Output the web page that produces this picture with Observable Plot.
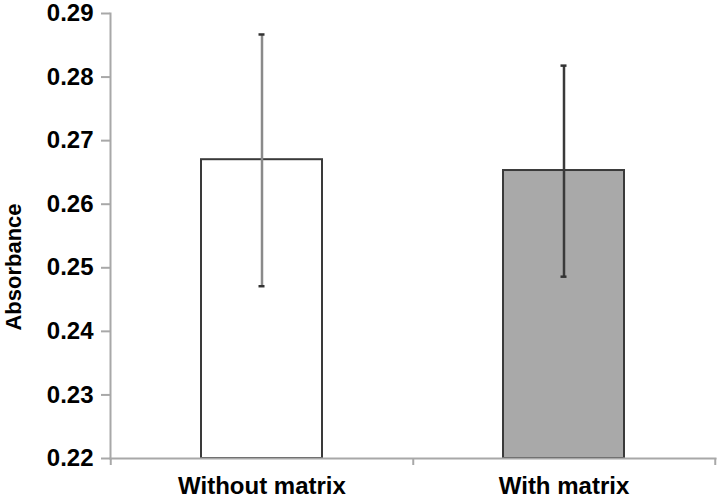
<!DOCTYPE html>
<html>
<head>
<meta charset="utf-8">
<script src="https://cdn.jsdelivr.net/npm/d3@7"></script>
<script src="https://cdn.jsdelivr.net/npm/@observablehq/plot@0.6"></script>
<style>
  html, body { margin: 0; padding: 0; background: #fff; }
  #chart { width: 720px; height: 498px; }
</style>
</head>
<body>
<div id="chart"></div>
<script>
// ---- data ----
const categories = ["Without matrix", "With matrix"];
const means = [0.2670, 0.2653];
const lows = [0.2471, 0.2486];
const highs = [0.2867, 0.2818];
const yTicks = [0.22, 0.23, 0.24, 0.25, 0.26, 0.27, 0.28, 0.29];
const yLabel = "Absorbance";

// ---- styles / layout ----
const W = 720, H = 498;
const mL = 110, mR = 5, mT = 13, mB = 40;
const padInner = 0.6, padOuter = 0.3;
const barFills = ["#ffffff", "#a9a9a9"];
const errColors = ["#8a8a8a", "#3a3a3a"];
const axisGray = "#a8a8a8";
const font = "'Liberation Sans', Arial, Helvetica, sans-serif";

const step = (W - mL - mR) / categories.length;
const bandwidth = step * (1 - padInner);
const capWidth = 6;
const capInset = (bandwidth - capWidth) / 2;

const data = categories.map((c, i) => ({category: c, mean: means[i], low: lows[i], high: highs[i]}));

const errMarks = data.flatMap((d, i) => [
  Plot.ruleX([d], {x: "category", y1: "low", y2: "high", stroke: errColors[i], strokeWidth: 2.5}),
  Plot.tickY([d], {x: "category", y: "low", stroke: "#333", strokeWidth: 2.5, insetLeft: capInset, insetRight: capInset}),
  Plot.tickY([d], {x: "category", y: "high", stroke: "#333", strokeWidth: 2.5, insetLeft: capInset, insetRight: capInset})
]);

const chart = Plot.plot({
  width: W, height: H,
  marginLeft: mL, marginRight: mR, marginTop: mT, marginBottom: mB,
  style: {fontFamily: font, background: "#fff", color: "#000"},
  x: {domain: categories, paddingInner: padInner, paddingOuter: padOuter, axis: null},
  y: {domain: [yTicks[0], yTicks[yTicks.length - 1]], clamp: true, axis: null},
  color: {domain: categories, range: barFills},
  marks: [
    Plot.barY(data, {x: "category", y: "mean", fill: "category", stroke: "#3a3a3a", strokeWidth: 2}),
    ...errMarks,
    // axis lines
    Plot.frame({anchor: "left", stroke: axisGray, strokeWidth: 2}),
    Plot.frame({anchor: "bottom", stroke: axisGray, strokeWidth: 2}),
    // y ticks + labels
    Plot.axisY({ticks: yTicks, tickSize: 9, tickPadding: 8, tickFormat: ".2f", label: null,
      stroke: axisGray, strokeWidth: 2, fill: "#000", fontSize: 24, fontWeight: "bold"}),
    // x ticks at band boundaries
    Plot.axisX({ticks: categories, tickSize: 7, dx: step / 2, tickFormat: () => "", label: null, stroke: axisGray, strokeWidth: 2}),
    Plot.axisX({ticks: categories.slice(0, 1), tickSize: 7, dx: -step / 2, tickFormat: () => "", label: null, stroke: axisGray, strokeWidth: 2}),
    // x labels
    Plot.axisX({ticks: categories, tickSize: 0, tickPadding: 18, label: null, fill: "#000", fontSize: 24, fontWeight: "bold"}),
    // y title
    Plot.text([yLabel], {frameAnchor: "left", textAnchor: "middle", lineAnchor: "middle", rotate: -90, dx: -97, dy: 31, fontSize: 22, fontWeight: "bold", fill: "#000"})
  ]
});
document.getElementById("chart").appendChild(chart);
</script>
</body>
</html>
